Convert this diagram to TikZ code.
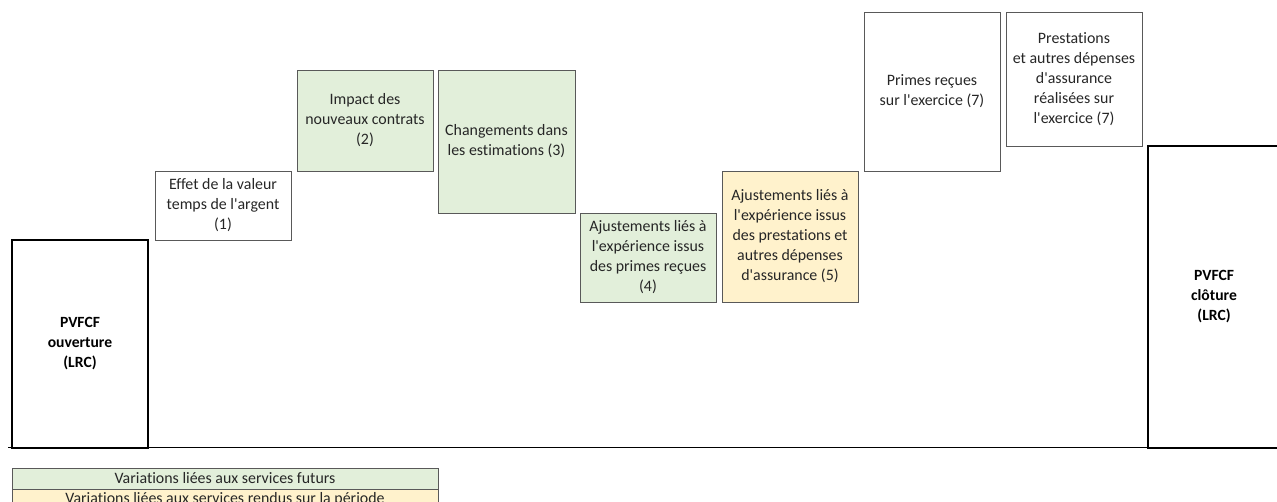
\documentclass[tikz,border=0pt]{standalone}
\usepackage{fontspec}
\setmainfont{Carlito}[Ligatures={TeXOff,NoCommon}]
\definecolor{vgreen}{HTML}{E2EFDA}
\definecolor{vyellow}{HTML}{FFF2CC}
\definecolor{bgray}{HTML}{595959}
\begin{document}
\begin{tikzpicture}[x=1pt,y=-1pt,
  every node/.style={inner sep=0pt,outer sep=0pt,align=center,anchor=north west,
    font=\fontsize{15.9}{20}\selectfont,text=black!85},
  small/.style={draw=bgray,line width=0.9pt},
  big/.style={draw=black,line width=1.6pt,font=\fontsize{15.6}{20}\selectfont\bfseries,text=black},
  green/.style={fill=vgreen},
  yellow/.style={fill=vyellow},
  legend/.style={draw=bgray,line width=0.9pt,minimum width=426pt,minimum height=21pt,
    font=\fontsize{15.9}{18}\selectfont}]
\useasboundingbox (0,0) rectangle (1277,502);
\clip (0,0) rectangle (1277,502);
\node[big,minimum width=136pt,minimum height=208pt] (open) at (12,240) {PVFCF\\ouverture\\(LRC)};
\node[small,minimum width=136pt,minimum height=69pt] (b1) at (155,171) {Effet de la valeur\\temps de l'argent\\(1)};
\node[small,green,minimum width=136pt,minimum height=101pt] (b2) at (297,70) {Impact des\\nouveaux contrats\\(2)};
\node[small,green,minimum width=137pt,minimum height=143pt] (b3) at (438,70) {Changements dans\\les estimations (3)};
\node[small,green,minimum width=136pt,minimum height=89pt] (b4) at (580,213) {Ajustements liés à\\l'expérience issus\\des primes reçues\\(4)};
\node[small,yellow,minimum width=136pt,minimum height=131pt] (b5) at (722,171) {Ajustements liés à\\l'expérience issus\\des prestations et\\autres dépenses\\d'assurance (5)};
\node[small,minimum width=136pt,minimum height=159pt] (b6) at (864,12) {Primes reçues\\sur l'exercice (7)};
\node[small,minimum width=136pt,minimum height=134pt] (b7) at (1006,12) {Prestations\\et autres dépenses\\d'assurance\\réalisées sur\\l'exercice (7)};
\node[big,minimum width=140pt,minimum height=302pt] (close) at (1148,146) {\hspace*{-8pt}PVFCF\\\hspace*{-8pt}clôture\\\hspace*{-8pt}(LRC)};
\coordinate (axL) at (8,447.5);
\coordinate (axR) at (1277,447.5);
\draw[line width=1.4pt] (axL) -- (axR);
\node[legend,green] (l1) at (12,468) {Variations liées aux services futurs};
\node[legend,yellow] (l2) at (12,489) {Variations liées aux services rendus sur la période};
\end{tikzpicture}
\end{document}
